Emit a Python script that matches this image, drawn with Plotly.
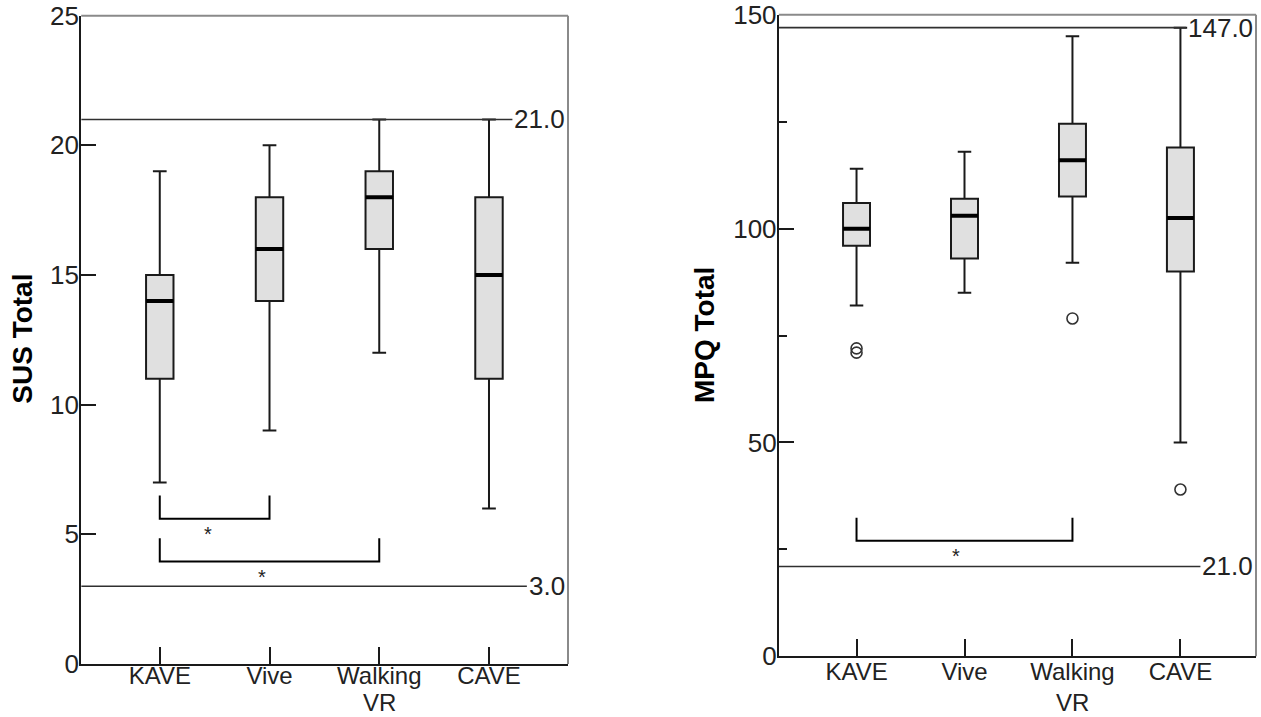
import plotly.graph_objects as go

# ---------------- data ----------------
categories = ["KAVE", "Vive", "Walking VR", "CAVE"]
tick_line1 = ["KAVE", "Vive", "Walking", "CAVE"]
tick_line2 = ["", "", "VR", ""]
cat_pos = [0, 1, 2, 3]

# SUS Total (left panel)
sus_low = [7, 9, 12, 6]
sus_q1 = [11, 14, 16, 11]
sus_med = [14, 16, 18, 15]
sus_q3 = [15, 18, 19, 18]
sus_high = [19, 20, 21, 21]
sus_ref = [21.0, 3.0]
sus_ticks = [0, 5, 10, 15, 20, 25]
# significance brackets
sus_br_from = [0, 0]
sus_br_to = [1, 2]
sus_br_top = [6.5, 4.85]
sus_br_bot = [5.6, 3.95]
sus_star_x = [0.44, 0.93]
sus_star_y = [5.15, 3.5]

# MPQ Total (right panel)
mpq_low = [82, 85, 92, 50]
mpq_q1 = [96, 93, 107.5, 90]
mpq_med = [100, 103, 116, 102.5]
mpq_q3 = [106, 107, 124.5, 119]
mpq_high = [114, 118, 145, 147]
mpq_out_x = [0, 0, 2, 3]
mpq_out_y = [72, 71, 79, 39]
mpq_ref = [147.0, 21.0]
mpq_ticks = [0, 50, 100, 150]
mpq_br_from = [0]
mpq_br_to = [2]
mpq_br_top = [32.4]
mpq_br_bot = [27.0]
mpq_star_x = [0.92]
mpq_star_y = [24.4]

# ---------------- style ----------------
W, H = 1261, 717
FONT = "Liberation Sans, Arial, sans-serif"
FS = 26      # y tick labels, reference labels
XFS = 24     # category labels
BOXW = 0.25
FILL = "#e0e0e0"
INK = "#1a1a1a"
TXT = "#222222"
BORDER = "#8a8a8a"

panels = [
    dict(xa="x", ya="y", xdom=[81.2 / W, 568 / W], ydom=[1 - 664 / H, 1 - 15.7 / H],
         xr=[-0.716, 3.72], yr=[0, 25], ticks=sus_ticks, minor=None,
         low=sus_low, q1=sus_q1, med=sus_med, q3=sus_q3, high=sus_high,
         ref=sus_ref, ox=[], oy=[],
         bf=sus_br_from, bt=sus_br_to, btop=sus_br_top, bbot=sus_br_bot,
         sx=sus_star_x, sy=sus_star_y, title="SUS Total", tx=21.7, ty=339,
         xstand=-11, vr=dict(y=0, yanchor="bottom")),
    dict(xa="x2", ya="y2", xdom=[778.8 / W, 1256 / W], ydom=[1 - 656.3 / H, 1 - 14.8 / H],
         xr=[-0.72, 3.70], yr=[0, 150], ticks=mpq_ticks, minor=25,
         low=mpq_low, q1=mpq_q1, med=mpq_med, q3=mpq_q3, high=mpq_high,
         ref=mpq_ref, ox=mpq_out_x, oy=mpq_out_y,
         bf=mpq_br_from, bt=mpq_br_to, btop=mpq_br_top, bbot=mpq_br_bot,
         sx=mpq_star_x, sy=mpq_star_y, title="MPQ Total", tx=704, ty=335,
         xstand=-7, vr=dict(y=1 - 688 / H, yanchor="top")),
]

fig = go.Figure()
annotations = []
shapes = []
layout_axes = {}

for p in panels:
    xa, ya = p["xa"], p["ya"]
    xdom_px = (p["xdom"][1] - p["xdom"][0]) * W
    px_per_unit = xdom_px / (p["xr"][1] - p["xr"][0])

    # boxes
    fig.add_trace(go.Box(
        x=cat_pos, q1=p["q1"], median=p["med"], q3=p["q3"],
        lowerfence=p["low"], upperfence=p["high"],
        width=BOXW, whiskerwidth=0.5, fillcolor=FILL,
        line=dict(color=INK, width=2), boxpoints=False,
        xaxis=xa, yaxis=ya, hoverinfo="skip"))

    # thick median lines
    mx, my = [], []
    for c, m in zip(cat_pos, p["med"]):
        mx += [c - BOXW / 2, c + BOXW / 2, None]
        my += [m, m, None]
    fig.add_trace(go.Scatter(x=mx, y=my, mode="lines",
                             line=dict(color="#000000", width=4),
                             xaxis=xa, yaxis=ya, hoverinfo="skip"))

    # outliers
    if p["ox"]:
        fig.add_trace(go.Scatter(x=p["ox"], y=p["oy"], mode="markers",
                                 marker=dict(symbol="circle-open", size=11,
                                             color="#333333", line=dict(width=1.6)),
                                 xaxis=xa, yaxis=ya, hoverinfo="skip"))

    # reference lines with labels
    for v in p["ref"]:
        label = f"{v:.1f}"
        label_px = sum(0.278 if ch == "." else 0.556 for ch in label) * FS
        x_end = p["xr"][1] - (label_px + 5) / px_per_unit
        fig.add_trace(go.Scatter(x=[p["xr"][0], x_end], y=[v, v], mode="lines",
                                 line=dict(color="#303030", width=1.6),
                                 xaxis=xa, yaxis=ya, hoverinfo="skip"))
        annotations.append(dict(text=label, xref=f"{xa} domain", x=1, xanchor="right",
                                xshift=-1, yref=ya, y=v, yanchor="middle",
                                showarrow=False, font=dict(family=FONT, size=FS, color=TXT)))

    # significance brackets
    for f, t, top, bot in zip(p["bf"], p["bt"], p["btop"], p["bbot"]):
        fig.add_trace(go.Scatter(x=[f, f, t, t], y=[top, bot, bot, top], mode="lines",
                                 line=dict(color="#000000", width=2),
                                 xaxis=xa, yaxis=ya, hoverinfo="skip"))
    for sx, sy in zip(p["sx"], p["sy"]):
        annotations.append(dict(text="*", xref=xa, x=sx, yref=ya, y=sy, yanchor="middle",
                                yshift=-4, showarrow=False,
                                font=dict(family=FONT, size=20, color=TXT)))

    # second line of tick labels
    for c, t2 in zip(cat_pos, tick_line2):
        if t2:
            annotations.append(dict(text=t2, xref=xa, x=c, yref="paper", y=p["vr"]["y"],
                                    yanchor=p["vr"]["yanchor"], borderpad=0, showarrow=False,
                                    font=dict(family=FONT, size=XFS, color=TXT)))

    # axis title
    annotations.append(dict(text=f"<b>{p['title']}</b>", xref="paper", yref="paper",
                            x=p["tx"] / W, y=1 - p["ty"] / H, textangle=-90,
                            xanchor="center", yanchor="middle", showarrow=False,
                            font=dict(family=FONT, size=28, color="#000000")))

    # gray top and right border
    shapes.append(dict(type="line", xref=f"{xa} domain", yref=f"{ya} domain",
                       x0=0, x1=1, y0=1, y1=1, layer="below",
                       line=dict(color=BORDER, width=2)))
    shapes.append(dict(type="line", xref=f"{xa} domain", yref=f"{ya} domain",
                       x0=1, x1=1, y0=0, y1=1, layer="below",
                       line=dict(color=BORDER, width=2)))

    xkey = "xaxis" if xa == "x" else "xaxis2"
    ykey = "yaxis" if ya == "y" else "yaxis2"
    layout_axes[xkey] = dict(
        domain=p["xdom"], range=p["xr"], anchor=ya, tickmode="array",
        tickvals=cat_pos, ticktext=tick_line1, ticks="inside", ticklen=17,
        tickwidth=2, tickcolor=INK, showline=True, linecolor=INK, linewidth=2,
        showgrid=False, zeroline=False, automargin=False, fixedrange=True,
        ticklabelstandoff=p["xstand"], ticklabeloverflow="allow",
        tickfont=dict(family=FONT, size=XFS, color=TXT))
    yax = dict(
        domain=p["ydom"], range=p["yr"], anchor=xa, tickmode="array",
        tickvals=p["ticks"], ticktext=[str(v) for v in p["ticks"]],
        ticks="inside", ticklen=15, tickwidth=2, tickcolor=INK,
        showline=True, linecolor=INK, linewidth=2, showgrid=False,
        zeroline=False, automargin=False, fixedrange=True,
        ticklabelstandoff=-5, ticklabeloverflow="allow",
        tickfont=dict(family=FONT, size=FS, color=TXT))
    if p["minor"]:
        yax["minor"] = dict(ticks="inside", ticklen=8, tickwidth=2, tickcolor=INK,
                            dtick=p["minor"], tick0=0, showgrid=False)
    layout_axes[ykey] = yax

fig.update_layout(
    width=W, height=H, margin=dict(l=0, r=0, t=0, b=0),
    paper_bgcolor="white", plot_bgcolor="white", showlegend=False,
    annotations=annotations, shapes=shapes, **layout_axes)

fig.write_html("out.html", config={"displayModeBar": False, "staticPlot": True},
               post_script="document.body.style.margin='0';document.body.style.overflow='hidden';")
